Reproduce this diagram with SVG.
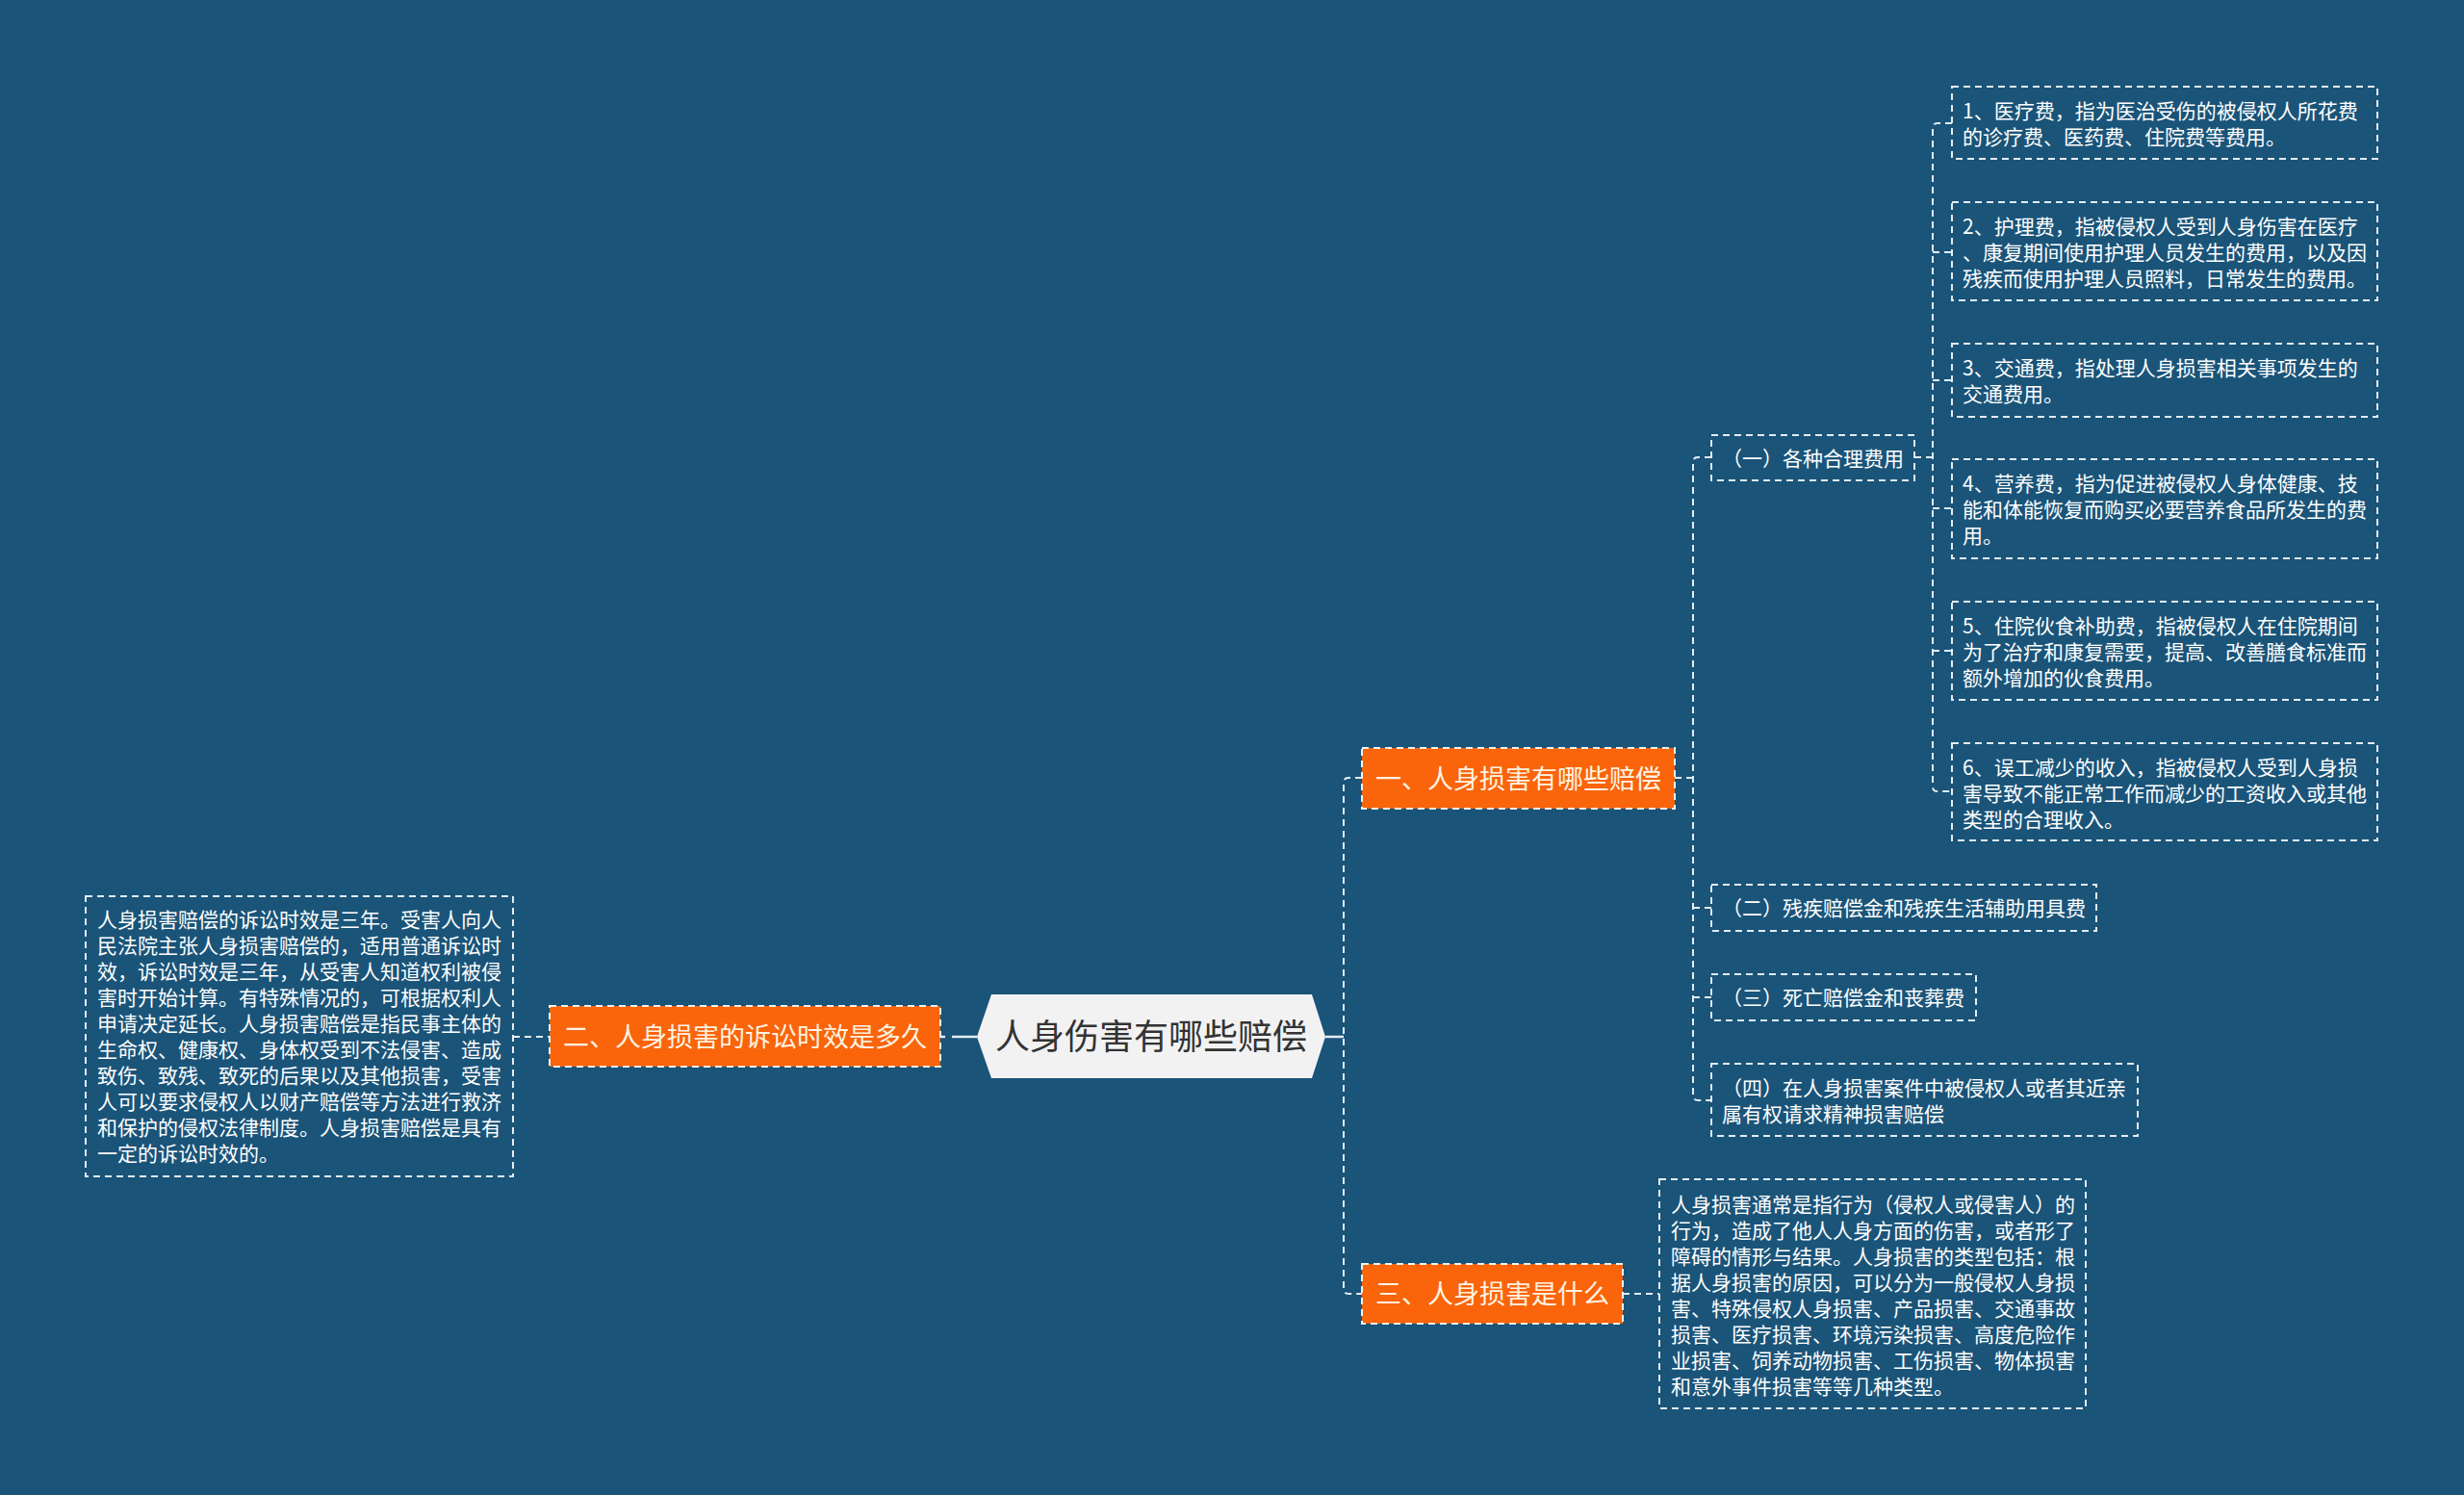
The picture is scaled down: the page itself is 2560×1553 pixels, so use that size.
<svg xmlns="http://www.w3.org/2000/svg" width="2560" height="1553" viewBox="0 0 2560 1553">
<style>
.bg{fill:#1a5479}
.dash{fill:none;stroke:#e4ecf2;stroke-width:2;stroke-dasharray:7 5}
.box{fill:none;stroke:#e4ecf2;stroke-width:2;stroke-dasharray:7 5}
.orange{fill:#fa640a;stroke:#f2f2f2;stroke-width:2;stroke-dasharray:7 5}
.t{font-family:"Noto Sans CJK SC","Noto Sans",sans-serif;fill:#ffffff;font-size:21px}
.ot{font-family:"Noto Sans CJK SC","Noto Sans",sans-serif;fill:#fff3e3;font-size:27px;text-anchor:middle}
.ct{font-family:"Noto Sans CJK SC","Noto Sans",sans-serif;fill:#333333;font-size:36px;text-anchor:middle}
</style>
<rect class="bg" x="0" y="0" width="2560" height="1553"/>

<g id="connectors">
  <path class="dash" d="M533 1077 H571"/>
  <path d="M977 1077 H1015" fill="none" stroke="#e4ecf2" stroke-width="2.5" stroke-dasharray="5 7 30"/>
  <path d="M1377 1077 H1396" fill="none" stroke="#e4ecf2" stroke-width="2.5"/>
  <path class="dash" d="M1415 808 H1401 Q1396 808 1396 813 V1339 Q1396 1344 1401 1344 H1415"/>
  <path class="dash" d="M1740 808 H1759"/>
  <path class="dash" d="M1778 475 H1764 Q1759 475 1759 480 V1138 Q1759 1143 1764 1143 H1778"/>
  <path class="dash" d="M1759 943 H1778"/>
  <path class="dash" d="M1759 1036 H1778"/>
  <path class="dash" d="M1989 475 H2008"/>
  <path class="dash" d="M2028 128 H2013 Q2008 128 2008 133 V817 Q2008 822 2013 822 H2028"/>
  <path class="dash" d="M2008 262 H2028"/>
  <path class="dash" d="M2008 395 H2028"/>
  <path class="dash" d="M2008 528 H2028"/>
  <path class="dash" d="M2008 676 H2028"/>
  <path class="dash" d="M1686 1344 H1724"/>
</g>

<g id="root">
  <polygon points="1015,1077 1030,1033 1363,1033 1377,1077 1363,1120 1030,1120" fill="#f2f2f2"/>
  <text class="ct" x="1196" y="1090">人身伤害有哪些赔偿</text>
</g>

<g id="n1">
  <rect class="orange" x="1415" y="777" width="325" height="63"/>
  <text class="ot" x="1577.5" y="819">一、人身损害有哪些赔偿</text>
</g>

<g id="n2">
  <rect class="orange" x="571" y="1045" width="406" height="63"/>
  <text class="ot" x="774" y="1087">二、人身损害的诉讼时效是多久</text>
</g>

<g id="n3">
  <rect class="orange" x="1415" y="1313" width="271" height="62"/>
  <text class="ot" x="1550.5" y="1354">三、人身损害是什么</text>
</g>

<g id="n2-detail">
  <rect class="box" x="89" y="931" width="444" height="291"/>
  <text class="t" x="101" y="963">人身损害赔偿的诉讼时效是三年。受害人向人</text>
  <text class="t" x="101" y="990">民法院主张人身损害赔偿的，适用普通诉讼时</text>
  <text class="t" x="101" y="1017">效，诉讼时效是三年，从受害人知道权利被侵</text>
  <text class="t" x="101" y="1044">害时开始计算。有特殊情况的，可根据权利人</text>
  <text class="t" x="101" y="1071">申请决定延长。人身损害赔偿是指民事主体的</text>
  <text class="t" x="101" y="1098">生命权、健康权、身体权受到不法侵害、造成</text>
  <text class="t" x="101" y="1125">致伤、致残、致死的后果以及其他损害，受害</text>
  <text class="t" x="101" y="1152">人可以要求侵权人以财产赔偿等方法进行救济</text>
  <text class="t" x="101" y="1179">和保护的侵权法律制度。人身损害赔偿是具有</text>
  <text class="t" x="101" y="1206">一定的诉讼时效的。</text>
</g>

<g id="n3-detail">
  <rect class="box" x="1724" y="1225" width="443" height="238"/>
  <text class="t" x="1736" y="1259">人身损害通常是指行为（侵权人或侵害人）的</text>
  <text class="t" x="1736" y="1286">行为，造成了他人人身方面的伤害，或者形了</text>
  <text class="t" x="1736" y="1313">障碍的情形与结果。人身损害的类型包括：根</text>
  <text class="t" x="1736" y="1340">据人身损害的原因，可以分为一般侵权人身损</text>
  <text class="t" x="1736" y="1367">害、特殊侵权人身损害、产品损害、交通事故</text>
  <text class="t" x="1736" y="1394">损害、医疗损害、环境污染损害、高度危险作</text>
  <text class="t" x="1736" y="1421">业损害、饲养动物损害、工伤损害、物体损害</text>
  <text class="t" x="1736" y="1448">和意外事件损害等等几种类型。</text>
</g>

<g id="c1">
  <rect class="box" x="1778" y="452" width="211" height="47"/>
  <text class="t" x="1789" y="484">（一）各种合理费用</text>
</g>
<g id="c2">
  <rect class="box" x="1778" y="919" width="400" height="48"/>
  <text class="t" x="1789" y="951">（二）残疾赔偿金和残疾生活辅助用具费</text>
</g>
<g id="c3">
  <rect class="box" x="1778" y="1012" width="275" height="48"/>
  <text class="t" x="1789" y="1044">（三）死亡赔偿金和丧葬费</text>
</g>
<g id="c4">
  <rect class="box" x="1778" y="1105" width="443" height="75"/>
  <text class="t" x="1789" y="1138">（四）在人身损害案件中被侵权人或者其近亲</text>
  <text class="t" x="1789" y="1165">属有权请求精神损害赔偿</text>
</g>

<g id="l1">
  <rect class="box" x="2028" y="90" width="442" height="75"/>
  <text class="t" x="2039" y="123">1、医疗费，指为医治受伤的被侵权人所花费</text>
  <text class="t" x="2039" y="150">的诊疗费、医药费、住院费等费用。</text>
</g>
<g id="l2">
  <rect class="box" x="2028" y="210" width="442" height="102"/>
  <text class="t" x="2039" y="243">2、护理费，指被侵权人受到人身伤害在医疗</text>
  <text class="t" x="2039" y="270">、康复期间使用护理人员发生的费用，以及因</text>
  <text class="t" x="2039" y="297">残疾而使用护理人员照料，日常发生的费用。</text>
</g>
<g id="l3">
  <rect class="box" x="2028" y="357" width="442" height="76"/>
  <text class="t" x="2039" y="390">3、交通费，指处理人身损害相关事项发生的</text>
  <text class="t" x="2039" y="417">交通费用。</text>
</g>
<g id="l4">
  <rect class="box" x="2028" y="477" width="442" height="103"/>
  <text class="t" x="2039" y="510">4、营养费，指为促进被侵权人身体健康、技</text>
  <text class="t" x="2039" y="537">能和体能恢复而购买必要营养食品所发生的费</text>
  <text class="t" x="2039" y="564">用。</text>
</g>
<g id="l5">
  <rect class="box" x="2028" y="625" width="442" height="102"/>
  <text class="t" x="2039" y="658">5、住院伙食补助费，指被侵权人在住院期间</text>
  <text class="t" x="2039" y="685">为了治疗和康复需要，提高、改善膳食标准而</text>
  <text class="t" x="2039" y="712">额外增加的伙食费用。</text>
</g>
<g id="l6">
  <rect class="box" x="2028" y="772" width="442" height="101"/>
  <text class="t" x="2039" y="805">6、误工减少的收入，指被侵权人受到人身损</text>
  <text class="t" x="2039" y="832">害导致不能正常工作而减少的工资收入或其他</text>
  <text class="t" x="2039" y="859">类型的合理收入。</text>
</g>
</svg>
